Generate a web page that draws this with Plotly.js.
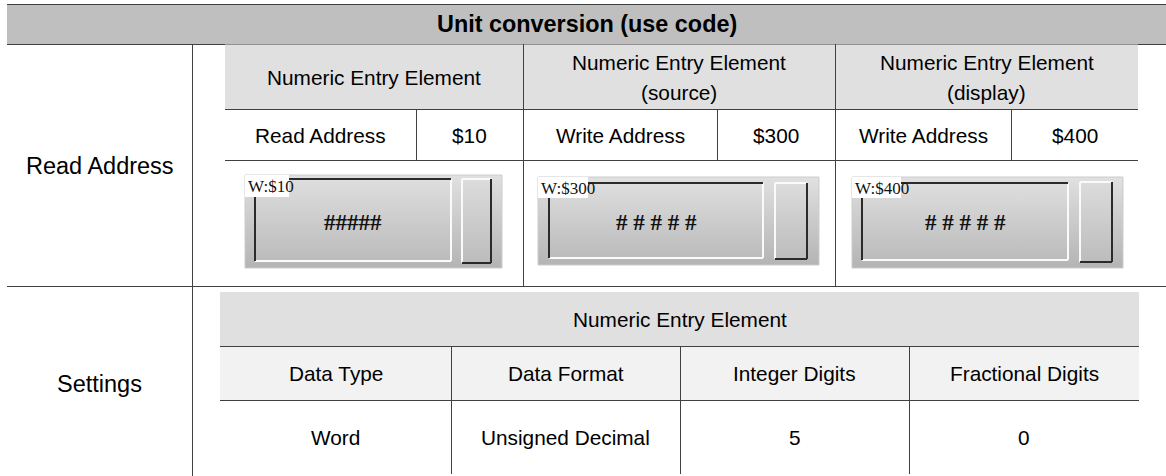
<!DOCTYPE html>
<html><head><meta charset="utf-8">
<script src="https://cdn.plot.ly/plotly-3.0.1.min.js"></script>
<style>html,body{margin:0;padding:0;background:#fff;overflow:hidden}#chart{width:1166px;height:476px}</style>
</head><body><div id="chart"></div>
<script>
// ---- content ----
const tableTitle = 'Unit conversion (use code)';
const rowLabels = ['Read Address', 'Settings'];
const elementNames = ['Numeric Entry Element', 'Numeric Entry Element', 'Numeric Entry Element'];
const elementRoles = ['', '(source)', '(display)'];
const addressLabels = ['Read Address', 'Write Address', 'Write Address'];
const addressValues = ['$10', '$300', '$400'];
const widgetTags = ['W:$10', 'W:$300', 'W:$400'];
const widgetDisplays = ['#####', '# # # # #', '# # # # #'];
const settingsTitle = 'Numeric Entry Element';
const settingsHeaders = ['Data Type', 'Data Format', 'Integer Digits', 'Fractional Digits'];
const settingsValues = ['Word', 'Unsigned Decimal', '5', '0'];

// ---- geometry / style (pixel coordinates) ----
const W = 1166, H = 476;
const LINE = '#404040';
const SANS = 'Liberation Sans, Arial, sans-serif';
const SERIF = 'Liberation Serif, Times New Roman, serif';
const colEdges = [[225, 523], [523, 835], [835, 1138]];
const addrSplit = [416, 717, 1011];
const widgetBoxes = [
  {outer: [245, 502, 175, 268], inner: [255, 451, 179, 261], btn: [462, 491, 179, 263], tag: [245, 289, 175, 197]},
  {outer: [538, 819, 177, 265], inner: [549, 763, 183, 258], btn: [775, 807, 183, 259], tag: [538, 588, 177, 198]},
  {outer: [852, 1123, 177, 268], inner: [862, 1068, 183, 260], btn: [1080, 1112, 182, 262], tag: [852, 901, 177, 198]}
];
const setCols = [220, 451, 680, 909, 1139];

const shapes = [];
const annotations = [];
const traces = [];

function rect(x0, x1, y0, y1, fill, line) {
  shapes.push({type: 'rect', xref: 'x', yref: 'y', x0, x1, y0, y1, fillcolor: fill,
    line: line ? {color: line, width: 1} : {width: 0}, layer: 'above'});
}
function seg(x0, y0, x1, y1, color, width) {
  shapes.push({type: 'line', xref: 'x', yref: 'y', x0, y0, x1, y1,
    line: {color: color || LINE, width: width || 1}, layer: 'above'});
}
function txt(x, y, text, size, opts) {
  opts = opts || {};
  annotations.push({x, y, xref: 'x', yref: 'y', text, showarrow: false,
    xanchor: opts.xanchor || 'center', yanchor: 'middle',
    font: {family: opts.family || SANS, size, color: opts.color || '#000', weight: opts.weight || 'normal'}});
}
function grad(b, c0, c1) {
  const [x0, x1, y0, y1] = b;
  traces.push({type: 'scatter', mode: 'lines', x: [x0, x1, x1, x0, x0], y: [y0, y0, y1, y1, y0],
    fill: 'toself', line: {width: 0, color: 'rgba(0,0,0,0)'}, hoverinfo: 'skip', showlegend: false,
    fillgradient: {type: 'vertical', colorscale: [[0, c0], [1, c1]], start: y0, stop: y1}});
}

// title band
rect(7, W, 4, 44, '#bfbfbf');
seg(7, 4.5, W, 4.5);
seg(7, 44.5, W, 44.5);
txt((7 + W) / 2, 24, '<b>' + tableTitle + '</b>', 23.4);

// left column
seg(192.5, 44, 192.5, H);
seg(7, 286.5, W, 286.5);
txt(99.5, 166, rowLabels[0], 23.5);
txt(99.5, 384, rowLabels[1], 23.5);

// element sub-header and address row
rect(225, 1138, 44.5, 109.5, '#e0e0e0');
seg(225, 109.5, 1138, 109.5);
seg(225, 160.5, 1138, 160.5);
seg(523.5, 44, 523.5, 286);
seg(835.5, 44, 835.5, 286);
elementNames.forEach((n, i) => {
  const cx = (colEdges[i][0] + colEdges[i][1]) / 2;
  if (elementRoles[i]) {
    txt(cx, 62, n, 20.8);
    txt(cx, 92, elementRoles[i], 20.8);
  } else {
    txt(cx, 77, n, 20.8);
  }
  seg(addrSplit[i] + 0.5, 110, addrSplit[i] + 0.5, 160);
  txt((colEdges[i][0] + addrSplit[i]) / 2, 135, addressLabels[i], 20.8);
  txt((addrSplit[i] + colEdges[i][1]) / 2, 135, addressValues[i], 20.8);
});

// widgets
widgetBoxes.forEach((w, i) => {
  grad(w.outer, '#e0e0e0', '#b4b4b4');
  grad(w.inner, '#dedede', '#bbbbbb');
  grad(w.btn, '#dcdcdc', '#bcbcbc');
  const [ox0, ox1, oy0, oy1] = w.outer;
  rect(ox0, ox1, oy0, oy1, 'rgba(0,0,0,0)', '#cccccc');
  const [ix0, ix1, iy0, iy1] = w.inner;
  seg(ix0, iy1, ix1, iy1, '#fafafa', 2);
  seg(ix1, iy0, ix1, iy1, '#fafafa', 2);
  seg(ix0, iy0, ix1, iy0, '#2b2b2b', 2);
  seg(ix0, iy0, ix0, iy1, '#2b2b2b', 2);
  const [bx0, bx1, by0, by1] = w.btn;
  seg(bx0, by0, bx1, by0, '#fafafa', 2);
  seg(bx0, by0, bx0, by1, '#fafafa', 2);
  seg(bx1, by0, bx1, by1, '#2b2b2b', 2);
  seg(bx0, by1, bx1, by1, '#2b2b2b', 2);
  const [tx0, tx1, ty0, ty1] = w.tag;
  rect(tx0, tx1, ty0, ty1, '#ffffff');
  txt(tx0 + 0.5, (ty0 + ty1) / 2 + 0.5, widgetTags[i], 17, {family: SERIF, xanchor: 'left', color: '#111'});
  txt((ix0 + ix1) / 2, 222, widgetDisplays[i], 23, {family: SERIF, color: '#111', weight: 'bold'});
});

// settings block
rect(220, 1139, 292, 346, '#e0e0e0');
rect(220, 1139, 346, 400, '#f2f2f2');
seg(220, 346.5, 1139, 346.5);
seg(220, 400.5, 1139, 400.5);
txt((220 + 1139) / 2, 319, settingsTitle, 20.8);
settingsHeaders.forEach((h, i) => {
  const cx = (setCols[i] + setCols[i + 1]) / 2;
  if (i > 0) seg(setCols[i] + 0.5, 346, setCols[i] + 0.5, 474);
  txt(cx, 373, h, 20.8);
  txt(cx, 437, settingsValues[i], 20.8);
});

const layout = {
  width: W, height: H, margin: {l: 0, r: 0, t: 0, b: 0, pad: 0},
  paper_bgcolor: '#ffffff', plot_bgcolor: '#ffffff', showlegend: false,
  xaxis: {range: [0, W], visible: false, fixedrange: true},
  yaxis: {range: [H, 0], visible: false, fixedrange: true},
  shapes, annotations
};
Plotly.newPlot('chart', traces, layout, {staticPlot: true, displayModeBar: false});
</script></body></html>
